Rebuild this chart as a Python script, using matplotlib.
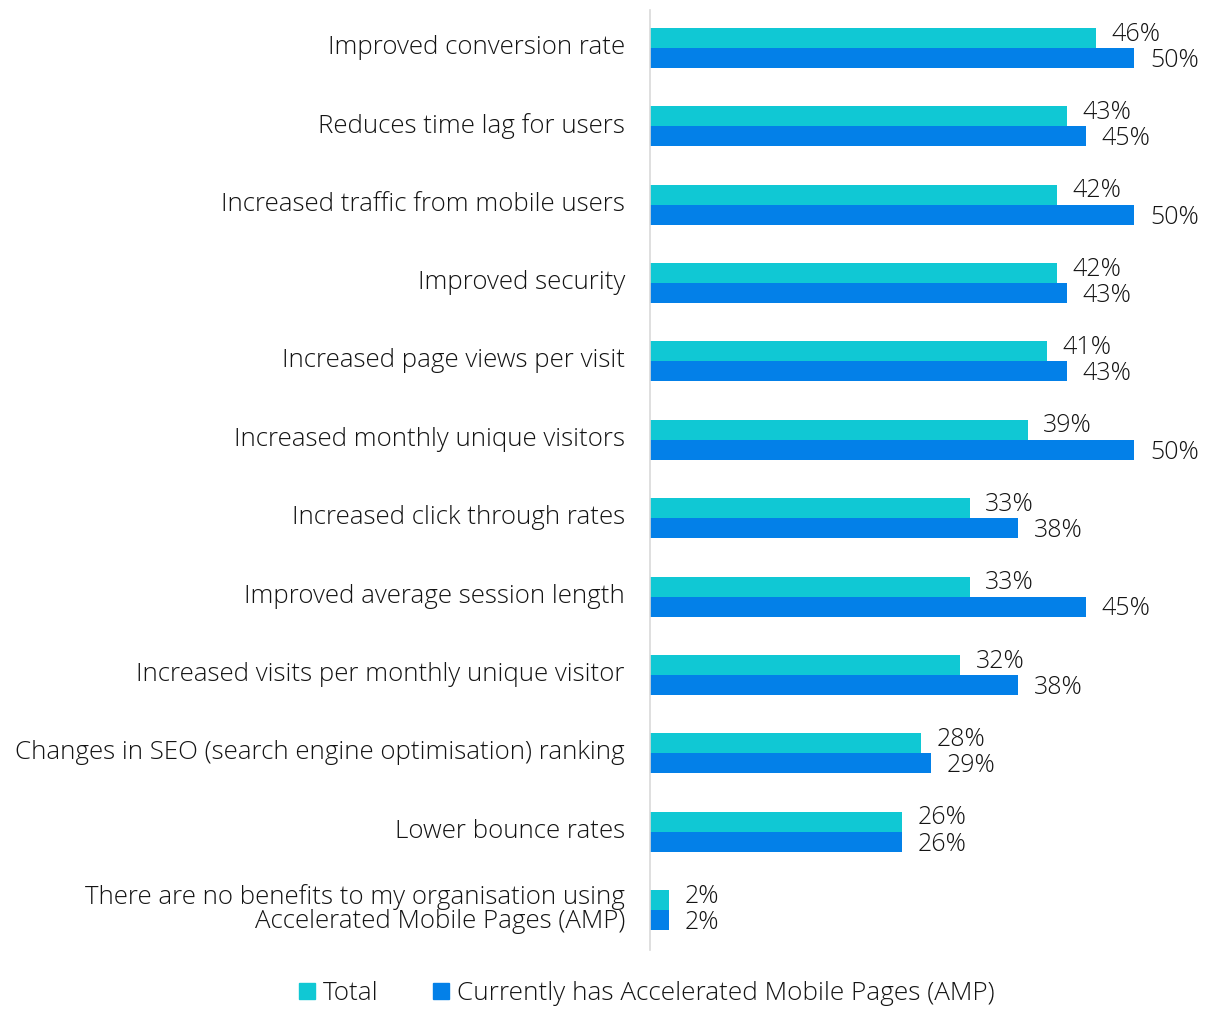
import matplotlib
matplotlib.use('Agg')
import matplotlib.pyplot as plt
import matplotlib.transforms as mtransforms
import numpy as np
from matplotlib.patches import Patch

categories = [
    'Improved conversion rate',
    'Reduces time lag for users',
    'Increased traffic from mobile users',
    'Improved security',
    'Increased page views per visit',
    'Increased monthly unique visitors',
    'Increased click through rates',
    'Improved average session length',
    'Increased visits per monthly unique visitor',
    'Changes in SEO (search engine optimisation) ranking',
    'Lower bounce rates',
    'There are no benefits to my organisation using\nAccelerated Mobile Pages (AMP)',
]
total = [46, 43, 42, 42, 41, 39, 33, 33, 32, 28, 26, 2]
amp = [50, 45, 50, 43, 43, 50, 38, 45, 38, 29, 26, 2]
series_names = ['Total', 'Currently has Accelerated Mobile Pages (AMP)']

c_total = '#10C8D4'
c_amp = '#0380E8'
txt = '#141414'

plt.rcParams['font.family'] = ['Open Sans', 'DejaVu Sans']
plt.rcParams['font.weight'] = 'light'

fig = plt.figure(figsize=(12.08, 10.09), dpi=100)
ax = fig.add_axes([650 / 1208, 59 / 1009, 558 / 1208, 940 / 1009])

y = np.arange(len(categories))
h = 0.255
ax.barh(y - h / 2, total, height=h, color=c_total)
ax.barh(y + h / 2, amp, height=h, color=c_amp)

for yi, v in zip(y, total):
    ax.text(v + 1.6, yi - h / 2 - 0.05, f'{v}%', va='center', ha='left',
            fontsize=18, color=txt, fontweight='light')
for yi, v in zip(y, amp):
    ax.text(v + 1.6, yi + h / 2 + 0.03, f'{v}%', va='center', ha='left',
            fontsize=18, color=txt, fontweight='light')

ax.set_xlim(0, 57.6)
ax.set_ylim(11.51, -0.485)
ax.set_yticks(y)
ax.set_yticklabels(categories, fontsize=18.6, color=txt, fontweight='light',
                   linespacing=0.95)
ax.tick_params(axis='y', length=0, pad=18)
# nudge labels up a little
offset = mtransforms.ScaledTranslation(0, 0.035, fig.dpi_scale_trans)
for lab in ax.get_yticklabels():
    lab.set_transform(lab.get_transform() + offset)
ax.set_xticks([])
for s in ['top', 'right', 'bottom']:
    ax.spines[s].set_visible(False)
ax.spines['left'].set_color('#d9d9d9')
ax.spines['left'].set_linewidth(1.2)

handles = [Patch(color=c_total), Patch(color=c_amp)]
fig.legend(handles, series_names, loc='center', bbox_to_anchor=(0.5356, 0.015),
           ncol=2, frameon=False, fontsize=18.8, handlelength=0.6, handleheight=0.6,
           handletextpad=0.3, columnspacing=2.1, labelcolor=txt)

fig.savefig('out.png', dpi=100)
